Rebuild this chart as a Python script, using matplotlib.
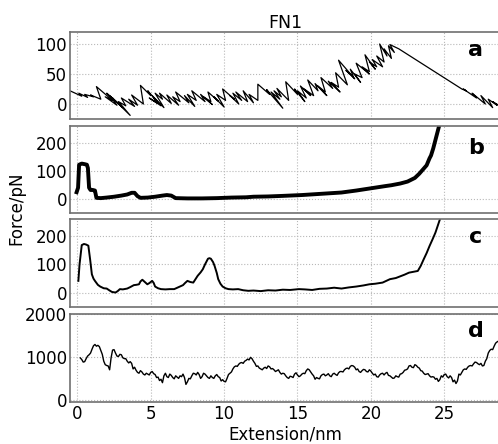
import matplotlib
matplotlib.use("Agg")
import matplotlib.pyplot as plt

# ---------------- data ----------------
a_x = [-0.5, 0.3, 0.1, 0.7, 0.5, 1.1, 0.9, 1.6,
       1.3, 2.4, 1.9, 2.7, 2.2, 3.1, 2.0, 2.6, 2.4, 3.6, 2.8, 3.3, 3.0, 3.9, 3.5, 4.1,
       3.7, 4.5, 4.3, 5.0, 4.8, 5.7, 4.9, 5.4, 5.1, 5.9, 5.3, 5.8,
       5.6, 6.4, 6.1, 6.9, 6.5, 7.0, 6.7, 7.6, 7.3, 8.0, 7.5, 8.1,
       7.8, 8.7, 8.4, 9.2, 8.6, 9.1, 8.9, 9.6, 9.3, 10.0, 9.5, 10.1,
       9.9, 10.7, 10.4, 11.0, 10.6, 11.2, 10.8, 11.6, 11.3, 12.0, 11.7, 12.3,
       12.3, 13.1, 12.9, 14.0, 13.2, 13.8, 13.4, 13.9, 13.6, 14.4,
       14.2, 15.0, 14.8, 15.5, 15.0, 15.6, 15.2, 15.9, 15.4, 16.1,
       15.7, 16.4, 16.2, 17.0, 16.4, 16.9, 16.6, 17.4, 17.1, 17.9, 17.3, 17.8,
       17.6, 18.4, 17.8, 18.9, 18.3, 18.8, 18.6, 19.3, 18.9, 19.4,
       19.0, 19.9, 19.4, 19.9, 19.6, 20.3, 19.9, 20.4, 20.1, 20.8, 20.4, 20.9,
       20.6, 21.1, 20.9, 21.4, 21.2, 21.6, 21.3, 21.9,
       26.2, 26.5,
       26.3, 27.2, 26.9, 27.5, 27.0, 27.8, 27.5, 28.3, 28.0, 28.6, 28.3, 28.9]
a_y = [22, 13, 18, 11, 16, 12, 15, 8,
       29, 6, 12, -2, 14, -6, 18, 4, 10, -19, 4, -3, 10, -4, 8, -2,
       15, 0, 31, 14, 22, -3, 10, 2, 14, -6, 18, 8,
       18, 1, 15, -2, 12, 4, 20, 2, 14, -4, 16, 6,
       22, 4, 16, -1, 12, 4, 20, 5, 12, -5, 16, 6,
       25, 8, 14, 0, 18, 6, 20, 4, 22, 2, 16, 6,
       33, 16, 24, -7, 20, 8, 22, 12, 26, 6,
       37, 16, 25, 4, 22, 10, 30, 14, 26, 14,
       40, 22, 34, 14, 30, 20, 44, 26, 38, 20, 36, 28,
       52, 32, 73, 42, 56, 46, 58, 36, 50, 44,
       68, 50, 62, 54, 82, 58, 70, 62, 74, 62, 80, 70,
       100, 80, 92, 76, 97, 86, 99, 92,
       25, 22,
       25, 10, 18, 6, 16, 0, 14, -6, 8, -2, 4, -5]

b_x = [-0.05, 0.05, 0.12, 0.3, 0.5, 0.65, 0.72, 0.8, 0.9, 1.05, 1.2, 1.3, 1.6,
       2.0, 2.5, 3.0, 3.4, 3.7, 3.9, 4.1, 4.3, 4.8, 5.3, 5.8, 6.1, 6.4, 6.7,
       7.5, 8.5, 9.5, 10.5, 11.5, 12.0, 13.0, 14.0, 15.3, 16.5, 18.0, 19.0,
       20.0, 21.0, 21.4, 22.0, 22.5, 23.0, 23.3, 23.6, 23.8, 24.0, 24.1,
       24.25, 24.4, 24.55, 24.7]
b_y = [24, 40, 122, 126, 124, 122, 110, 40, 32, 32, 30, 4, 3,
       5, 8, 12, 16, 22, 22, 10, 4, 5, 8, 12, 14, 12, 3,
       2, 2, 3, 5, 6, 8, 9, 11, 14, 18, 23, 30,
       38, 46, 49, 55, 62, 75, 90, 108, 120, 145, 155,
       180, 210, 240, 270]

c_x = [0.07, 0.15, 0.3, 0.45, 0.6, 0.75, 0.87, 0.99, 1.1, 1.2, 1.4, 1.56, 1.8,
       2.0, 2.2, 2.36, 2.6, 2.75, 2.9, 3.1, 3.4, 3.6, 3.85, 4.0, 4.2, 4.3,
       4.43, 4.6, 4.77, 4.9, 5.1, 5.2, 5.3, 5.5, 5.7, 6.0, 6.3, 6.6, 6.9,
       7.2, 7.35, 7.5, 7.7, 7.9, 8.05, 8.2, 8.4, 8.55, 8.7, 8.9, 9.0, 9.1,
       9.25, 9.35, 9.5, 9.6, 9.75, 9.9, 10.1, 10.3, 10.6, 10.96, 11.3, 11.65,
       12.0, 12.5, 13.0, 13.5, 14.0, 14.5, 15.1, 15.5, 16.0, 16.5, 17.0,
       17.5, 18.0, 18.5, 19.0, 19.5, 19.9, 20.3, 20.8, 21.3, 21.7, 22.0,
       22.3, 22.6, 22.9, 23.2, 23.4, 23.6, 23.8, 24.0, 24.2, 24.4, 24.55,
       24.7, 24.75]
c_y = [42, 100, 168, 172, 170, 166, 118, 65, 50, 42, 28, 22, 16,
       15, 8, 3, 1, 6, 13, 12, 15, 20, 27, 28, 30, 40,
       46, 38, 30, 34, 42, 35, 22, 16, 13, 12, 13, 13, 20,
       27, 35, 42, 38, 36, 48, 60, 72, 83, 100, 120, 122, 120,
       108, 95, 70, 48, 32, 22, 16, 13, 12, 13, 9, 7,
       8, 6, 9, 8, 11, 10, 13, 12, 10, 14, 15,
       18, 15, 19, 22, 26, 30, 32, 36, 48, 52, 58,
       64, 71, 74, 77, 95, 118, 140, 165, 188, 212, 235,
       258, 270]

d_x = [0.2, 0.3, 0.4, 0.5, 0.6, 0.7, 0.8, 0.9, 1.0, 1.1,
       1.2, 1.3, 1.4, 1.5, 1.6, 1.7, 1.8, 1.9, 2.0, 2.1,
       2.2, 2.3, 2.4, 2.5, 2.6, 2.7, 2.8, 2.9, 3.0, 3.1,
       3.2, 3.3, 3.4, 3.5, 3.6, 3.7, 3.8, 3.9, 4.0, 4.1,
       4.2, 4.3, 4.4, 4.5, 4.6, 4.7, 4.8, 4.9, 5.0, 5.1,
       5.2, 5.3, 5.4, 5.5, 5.6, 5.7, 5.8, 5.9, 6.0, 6.1,
       6.2, 6.3, 6.4, 6.5, 6.6, 6.7, 6.8, 6.9, 7.0, 7.1,
       7.2, 7.3, 7.4, 7.5, 7.6, 7.7, 7.8, 7.9, 8.0, 8.1,
       8.2, 8.3, 8.4, 8.5, 8.6, 8.7, 8.8, 8.9, 9.0, 9.1,
       9.2, 9.3, 9.4, 9.5, 9.6, 9.7, 9.8, 9.9, 10.0, 10.1,
       10.2, 10.3, 10.4, 10.5, 10.6, 10.7, 10.8, 10.9, 11.0, 11.1,
       11.2, 11.3, 11.4, 11.5, 11.6, 11.7, 11.8, 11.9, 12.0, 12.1,
       12.2, 12.3, 12.4, 12.5, 12.6, 12.7, 12.8, 12.9, 13.0, 13.1,
       13.2, 13.3, 13.4, 13.5, 13.6, 13.7, 13.8, 13.9, 14.0, 14.1,
       14.2, 14.3, 14.4, 14.5, 14.6, 14.7, 14.8, 14.9, 15.0, 15.1,
       15.2, 15.3, 15.4, 15.5, 15.6, 15.7, 15.8, 15.9, 16.0, 16.1,
       16.2, 16.3, 16.4, 16.5, 16.6, 16.7, 16.8, 16.9, 17.0, 17.1,
       17.2, 17.3, 17.4, 17.5, 17.6, 17.7, 17.8, 17.9, 18.0, 18.1,
       18.2, 18.3, 18.4, 18.5, 18.6, 18.7, 18.8, 18.9, 19.0, 19.1,
       19.2, 19.3, 19.4, 19.5, 19.6, 19.7, 19.8, 19.9, 20.0, 20.1,
       20.2, 20.3, 20.4, 20.5, 20.6, 20.7, 20.8, 20.9, 21.0, 21.1,
       21.2, 21.3, 21.4, 21.5, 21.6, 21.7, 21.8, 21.9, 22.0, 22.1,
       22.2, 22.3, 22.4, 22.5, 22.6, 22.7, 22.8, 22.9, 23.0, 23.1,
       23.2, 23.3, 23.4, 23.5, 23.6, 23.7, 23.8, 23.9, 24.0, 24.1,
       24.2, 24.3, 24.4, 24.5, 24.6, 24.7, 24.8, 24.9, 25.0, 25.1,
       25.2, 25.3, 25.4, 25.5, 25.6, 25.7, 25.8, 25.9, 26.0, 26.1,
       26.2, 26.3, 26.4, 26.5, 26.6, 26.7, 26.8, 26.9, 27.0, 27.1,
       27.2, 27.3, 27.4, 27.5, 27.6, 27.7, 27.8, 27.9, 28.0, 28.1,
       28.2, 28.3, 28.4, 28.5, 28.6, 28.7, 28.8]
d_y = [977, 940, 880, 890, 960, 1020, 1050, 1090, 1180, 1260,
       1290, 1250, 1270, 1240, 1150, 1060, 900, 820, 800, 790,
       700, 980, 1160, 1170, 1090, 1020, 1010, 1060, 1050, 980,
       960, 960, 900, 860, 890, 850, 720, 760, 690, 640,
       620, 680, 650, 600, 580, 620, 600, 580, 640, 660,
       610, 590, 520, 530, 450, 480, 400, 560, 620, 540,
       520, 600, 570, 520, 490, 560, 530, 500, 560, 540,
       600, 520, 360, 420, 500, 490, 560, 620, 610, 580,
       640, 590, 500, 540, 620, 600, 560, 520, 500, 560,
       520, 500, 560, 590, 540, 520, 440, 470, 430, 420,
       500, 590, 620, 650, 720, 770, 790, 780, 830, 860,
       870, 850, 900, 920, 950, 930, 990, 960, 900, 850,
       780, 790, 740, 720, 700, 740, 760, 730, 790, 770,
       720, 730, 700, 660, 680, 700, 640, 600, 620, 610,
       560, 520, 500, 550, 540, 520, 600, 630, 580, 540,
       560, 600, 620, 610, 680, 720, 700, 650, 600, 560,
       480, 520, 500, 490, 560, 590, 600, 560, 580, 610,
       560, 540, 600, 620, 590, 570, 630, 660, 660, 650,
       700, 730, 740, 720, 780, 800, 790, 760, 700, 720,
       660, 640, 680, 710, 700, 660, 650, 700, 670, 620,
       580, 600, 540, 530, 580, 610, 620, 580, 620, 640,
       570, 560, 530, 500, 510, 560, 540, 530, 600, 610,
       640, 690, 700, 720, 790, 800, 760, 750, 820, 800,
       760, 740, 680, 670, 620, 590, 600, 610, 560, 530,
       540, 530, 480, 500, 430, 470, 560, 530, 590, 600,
       540, 510, 560, 520, 420, 460, 380, 440, 600, 580,
       640, 700, 720, 710, 760, 790, 800, 790, 840, 880,
       870, 840, 820, 850, 790, 800, 900, 960, 1090, 1150,
       1180, 1170, 1250, 1320, 1350, 1370, 1420]

panel_labels = ["a", "b", "c", "d"]
y_ticks = [[0, 50, 100], [0, 100, 200], [0, 100, 200], [0, 1000, 2000]]
y_lims = [(-25, 120), (-50, 260), (-50, 260), (-50, 2000)]
x_ticks = [0, 5, 10, 15, 20, 25]

# ---------------- figure ----------------
fig = plt.figure(figsize=(4.98, 4.44), dpi=100)
left, width = 70 / 498, 430 / 498
rects = [
    (left, 1 - 119 / 444, width, 87 / 444),
    (left, 1 - 213 / 444, width, 87 / 444),
    (left, 1 - 307 / 444, width, 88 / 444),
    (left, 1 - 402 / 444, width, 88 / 444),
]
label_y = [0.724, 0.68, 0.727, 0.74]
series = [(a_x, a_y, 0.9), (b_x, b_y, 2.8), (c_x, c_y, 1.4), (d_x, d_y, 1.0)]

axes = []
for i, r in enumerate(rects):
    ax = fig.add_axes(r)
    xs, ys, lw = series[i]
    ax.plot(xs, ys, color="black", lw=lw)
    ax.set_xlim(-0.5, 28.8)
    ax.set_ylim(*y_lims[i])
    ax.set_yticks(y_ticks[i])
    ax.set_xticks(x_ticks)
    ax.grid(True, color="#b8b8b8", linestyle=":", linewidth=0.8)
    ax.tick_params(direction="in", length=0, labelsize=12, pad=2)
    for s in ax.spines.values():
        s.set_color("#707070")
        s.set_linewidth(1.2)
    if i < 3:
        ax.tick_params(labelbottom=False)
    ax.text(0.944, label_y[i], panel_labels[i], transform=ax.transAxes,
            ha="center", va="baseline", fontsize=16, fontweight="bold")
    axes.append(ax)

axes[0].set_title("FN1", fontsize=12.5, pad=3)
axes[3].set_xlabel("Extension/nm", fontsize=12, labelpad=2)
fig.text(0.032, 0.532, "Force/pN", rotation=90, ha="center", va="center",
         fontsize=12)

fig.savefig("out.png", dpi=100)
